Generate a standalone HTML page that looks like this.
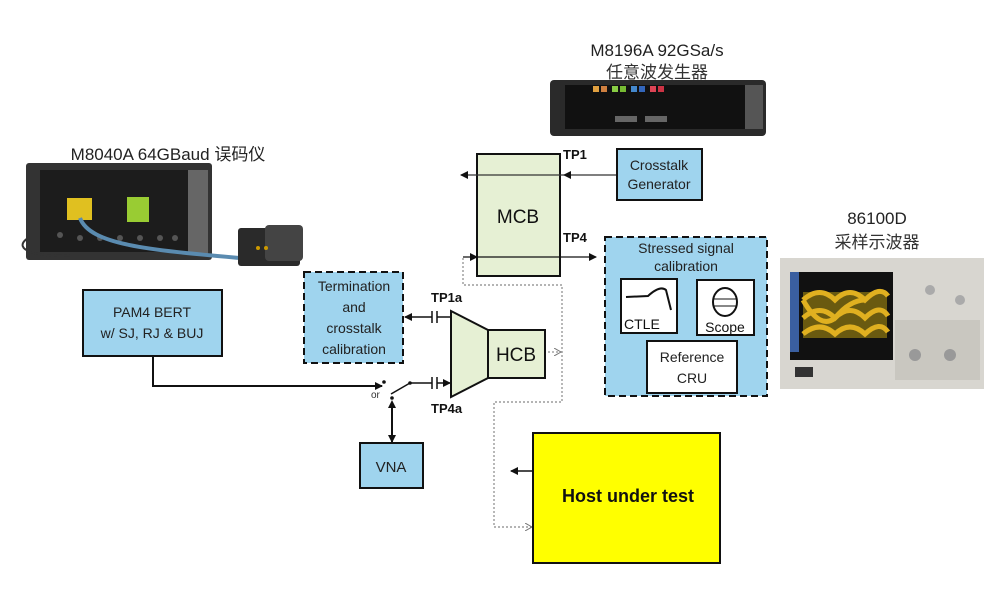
<!DOCTYPE html>
<html><head><meta charset="utf-8"><style>
html,body{margin:0;padding:0;background:#fff;}
svg{display:block;}
text{font-family:"Liberation Sans","Noto Sans CJK SC",sans-serif;}
</style></head><body>
<svg width="993" height="604" viewBox="0 0 993 604" xmlns="http://www.w3.org/2000/svg">
<defs>
<marker id="ah" markerWidth="8" markerHeight="8" refX="7" refY="4" orient="auto" markerUnits="userSpaceOnUse"><path d="M0,0 L8,4 L0,8 z" fill="#111"/></marker>
<marker id="ahd" markerWidth="8" markerHeight="8" refX="7" refY="4" orient="auto" markerUnits="userSpaceOnUse"><path d="M0,0 L7,4 L0,8" fill="none" stroke="#777" stroke-width="1"/></marker>
</defs>

<!-- titles -->
<text x="657" y="56" font-size="17" text-anchor="middle" fill="#222">M8196A 92GSa/s</text>
<text x="657" y="78" font-size="17" text-anchor="middle" fill="#333">任意波发生器</text>
<text x="168" y="160" font-size="17" text-anchor="middle" fill="#222">M8040A 64GBaud 误码仪</text>
<text x="877" y="224" font-size="17" text-anchor="middle" fill="#222">86100D</text>
<text x="877" y="248" font-size="17" text-anchor="middle" fill="#333">采样示波器</text>

<!-- M8196A instrument -->
<rect x="550" y="80" width="216" height="56" rx="4" fill="#2a2a2a"/>
<rect x="565" y="85" width="180" height="44" fill="#111"/>
<rect x="745" y="85" width="18" height="44" fill="#555"/>
<g>
<rect x="593" y="86" width="6" height="6" fill="#e0a040"/><rect x="601" y="86" width="6" height="6" fill="#d08040"/>
<rect x="612" y="86" width="6" height="6" fill="#8c4"/><rect x="620" y="86" width="6" height="6" fill="#7b3"/>
<rect x="631" y="86" width="6" height="6" fill="#48c"/><rect x="639" y="86" width="6" height="6" fill="#36b"/>
<rect x="650" y="86" width="6" height="6" fill="#d45"/><rect x="658" y="86" width="6" height="6" fill="#c34"/>
</g>
<rect x="615" y="116" width="22" height="6" fill="#666"/><rect x="645" y="116" width="22" height="6" fill="#666"/>

<!-- M8040A instrument -->
<rect x="26" y="163" width="186" height="97" rx="3" fill="#333"/>
<rect x="40" y="170" width="148" height="82" fill="#1c1c1c"/>
<rect x="188" y="170" width="20" height="85" fill="#666"/>
<g fill="#555"><circle cx="60" cy="235" r="3"/><circle cx="80" cy="238" r="3"/><circle cx="100" cy="238" r="3"/><circle cx="120" cy="238" r="3"/><circle cx="140" cy="238" r="3"/><circle cx="160" cy="238" r="3"/><circle cx="175" cy="238" r="3"/></g>
<rect x="67" y="198" width="25" height="22" fill="#e0c020"/>
<rect x="127" y="197" width="22" height="25" fill="#9c3"/>
<path d="M80,218 C90,245 150,250 240,258" stroke="#5a8bb0" stroke-width="4" fill="none"/>
<path d="M28,238 C10,250 40,258 70,255" stroke="#333" stroke-width="2" fill="none"/>
<rect x="238" y="228" width="62" height="38" rx="3" fill="#2a2a2a"/>
<rect x="265" y="225" width="38" height="36" rx="4" fill="#444"/>
<circle cx="258" cy="248" r="2" fill="#c90"/><circle cx="266" cy="248" r="2" fill="#c90"/>

<!-- 86100D -->
<rect x="780" y="258" width="204" height="131" fill="#d8d6d0"/>
<rect x="790" y="272" width="103" height="88" fill="#111"/>
<rect x="790" y="272" width="9" height="80" fill="#3a5fa0"/>
<rect x="803" y="292" width="84" height="46" fill="#6a5a10"/>
<g fill="none" stroke="#e0b020" stroke-width="5">
<path d="M803,300 Q820,285 835,300 Q850,285 865,300 Q880,285 888,296"/>
<path d="M803,318 Q820,303 835,318 Q850,303 865,318 Q880,303 888,316"/>
<path d="M803,334 Q820,320 835,334 Q850,320 865,334 Q880,320 888,332"/>
<path d="M803,300 Q820,330 835,318 Q850,300 865,300"/>
</g>
<rect x="895" y="320" width="85" height="60" fill="#c9c7c0"/>
<circle cx="915" cy="355" r="6" fill="#999"/><circle cx="950" cy="355" r="6" fill="#999"/><circle cx="960" cy="300" r="5" fill="#aaa"/><circle cx="930" cy="290" r="5" fill="#aaa"/>
<rect x="795" y="367" width="18" height="10" fill="#333"/>

<!-- MCB -->
<rect x="477" y="154" width="83" height="122" fill="#e6f0d4" stroke="#111" stroke-width="2"/>
<text x="518" y="223" font-size="19" text-anchor="middle" fill="#111">MCB</text>
<text x="563" y="159" font-size="13" font-weight="bold" fill="#111">TP1</text>
<text x="563" y="242" font-size="13" font-weight="bold" fill="#111">TP4</text>
<line x1="617" y1="175" x2="461" y2="175" stroke="#333" stroke-width="1.2" marker-end="url(#ah)"/>
<path d="M563,175 L571,171 L571,179 z" fill="#111"/>
<line x1="463" y1="257" x2="596" y2="257" stroke="#111" stroke-width="1.2" marker-end="url(#ah)"/>
<path d="M478,257 L470,253 L470,261 z" fill="#111"/>

<!-- Crosstalk generator -->
<rect x="617" y="149" width="85" height="51" fill="#9fd4ee" stroke="#111" stroke-width="2"/>
<text x="659" y="170" font-size="14" text-anchor="middle" fill="#222">Crosstalk</text>
<text x="659" y="189" font-size="14" text-anchor="middle" fill="#222">Generator</text>

<!-- Stressed signal -->
<rect x="605" y="237" width="162" height="159" fill="#9fd4ee" stroke="#111" stroke-width="2" stroke-dasharray="7,4"/>
<text x="686" y="253" font-size="14" text-anchor="middle" fill="#222">Stressed signal</text>
<text x="686" y="271" font-size="14" text-anchor="middle" fill="#222">calibration</text>
<rect x="621" y="279" width="56" height="54" fill="#fff" stroke="#111" stroke-width="2"/>
<path d="M626,297 L648,296 Q660,285 666,290 L671,310" fill="none" stroke="#111" stroke-width="2"/>
<text x="624" y="329" font-size="14" fill="#111">CTLE</text>
<rect x="697" y="280" width="57" height="55" fill="#fff" stroke="#111" stroke-width="2"/>
<ellipse cx="725" cy="302" rx="12" ry="14" fill="none" stroke="#111" stroke-width="2"/>
<line x1="713" y1="299" x2="737" y2="299" stroke="#111"/><line x1="713" y1="306" x2="737" y2="306" stroke="#111"/>
<text x="725" y="332" font-size="14" text-anchor="middle" fill="#111">Scope</text>
<rect x="647" y="341" width="90" height="52" fill="#fff" stroke="#111" stroke-width="2"/>
<text x="692" y="362" font-size="14" text-anchor="middle" fill="#222">Reference</text>
<text x="692" y="383" font-size="14" text-anchor="middle" fill="#222">CRU</text>

<!-- Termination -->
<rect x="304" y="272" width="99" height="91" fill="#9fd4ee" stroke="#111" stroke-width="2" stroke-dasharray="7,4"/>
<text x="354" y="291" font-size="14" text-anchor="middle" fill="#222">Termination</text>
<text x="354" y="312" font-size="14" text-anchor="middle" fill="#222">and</text>
<text x="354" y="333" font-size="14" text-anchor="middle" fill="#222">crosstalk</text>
<text x="354" y="354" font-size="14" text-anchor="middle" fill="#222">calibration</text>

<!-- PAM4 BERT -->
<rect x="83" y="290" width="139" height="66" fill="#9fd4ee" stroke="#111" stroke-width="2"/>
<text x="152" y="317" font-size="14" text-anchor="middle" fill="#222">PAM4 BERT</text>
<text x="152" y="338" font-size="14" text-anchor="middle" fill="#222">w/ SJ, RJ &amp; BUJ</text>
<polyline points="153,356 153,386 382,386" fill="none" stroke="#111" stroke-width="2" marker-end="url(#ah)"/>
<circle cx="384" cy="382" r="1.8" fill="#111"/>
<text x="371" y="398" font-size="10" fill="#333">or</text>
<line x1="391" y1="394" x2="410" y2="383" stroke="#111" stroke-width="1.5"/>
<circle cx="410" cy="383" r="1.8" fill="#111"/>
<circle cx="392" cy="398" r="1.8" fill="#111"/>
<line x1="392" y1="402" x2="392" y2="442" stroke="#111" stroke-width="2" marker-end="url(#ah)"/>
<path d="M392,400 L388,408 L396,408 z" fill="#111"/>

<!-- VNA -->
<rect x="360" y="443" width="63" height="45" fill="#9fd4ee" stroke="#111" stroke-width="2"/>
<text x="391" y="472" font-size="15" text-anchor="middle" fill="#222">VNA</text>

<!-- TP4a line -->
<line x1="410" y1="383" x2="432" y2="383" stroke="#111" stroke-width="1.5"/>
<line x1="432" y1="377" x2="432" y2="389" stroke="#111" stroke-width="1.5"/>
<line x1="437" y1="377" x2="437" y2="389" stroke="#111" stroke-width="1.5"/>
<line x1="437" y1="383" x2="450" y2="383" stroke="#111" stroke-width="1.5" marker-end="url(#ah)"/>
<text x="431" y="413" font-size="13" font-weight="bold" fill="#111">TP4a</text>

<!-- TP1a -->
<line x1="451" y1="317" x2="437" y2="317" stroke="#111" stroke-width="1.5"/>
<line x1="437" y1="311" x2="437" y2="323" stroke="#111" stroke-width="1.5"/>
<line x1="432" y1="311" x2="432" y2="323" stroke="#111" stroke-width="1.5"/>
<line x1="432" y1="317" x2="405" y2="317" stroke="#111" stroke-width="1.5" marker-end="url(#ah)"/>
<text x="431" y="302" font-size="13" font-weight="bold" fill="#111">TP1a</text>

<!-- HCB -->
<polygon points="451,311 488,330 488,378 451,397" fill="#e6f0d4" stroke="#111" stroke-width="2"/>
<rect x="488" y="330" width="57" height="48" fill="#e6f0d4" stroke="#111" stroke-width="2"/>
<text x="516" y="361" font-size="19" text-anchor="middle" fill="#111">HCB</text>
<line x1="548" y1="352" x2="561" y2="352" stroke="#777" stroke-width="1" stroke-dasharray="2,2" marker-end="url(#ahd)"/>

<!-- dotted path -->
<polyline points="463,258 463,285 562,285 562,402 494,402 494,527 532,527" fill="none" stroke="#888" stroke-width="1.2" stroke-dasharray="2,2" marker-end="url(#ahd)"/>

<!-- Host -->
<rect x="533" y="433" width="187" height="130" fill="#ffff00" stroke="#111" stroke-width="2"/>
<text x="628" y="502" font-size="18" font-weight="bold" text-anchor="middle" fill="#111">Host under test</text>
<line x1="533" y1="471" x2="511" y2="471" stroke="#111" stroke-width="1.5" marker-end="url(#ah)"/>
</svg>
</body></html>
